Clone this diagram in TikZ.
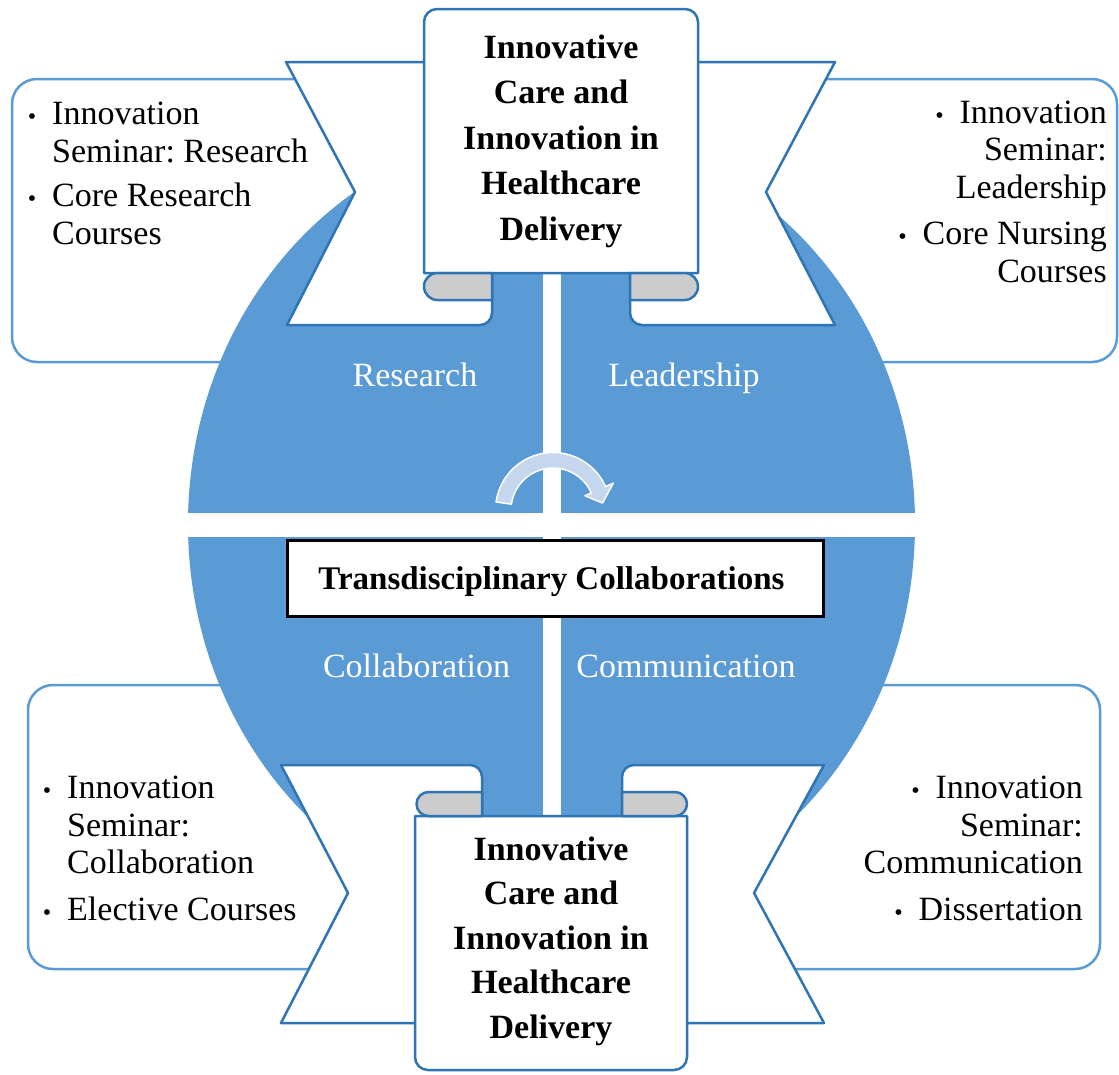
\documentclass[tikz,border=0pt]{standalone}
\usepackage{fontspec}
\setmainfont{Liberation Serif}
\frenchspacing
\definecolor{cblue}{HTML}{5B9BD5}
\definecolor{dblue}{HTML}{2E75B6}
\definecolor{curlgray}{HTML}{CCCCCC}
\definecolor{arrowfill}{HTML}{C5D7EF}
\newcommand\mybul{\makebox[40pt]{\fontsize{24}{24}\selectfont\textbullet}}
\newcommand\myind{\hspace*{40pt}}
\begin{document}
\begin{tikzpicture}[x=1pt,y=-1pt,
  callout/.style={draw=cblue, line width=2.5pt, fill=white, rounded corners=25pt},
  ribline/.style={draw=dblue, line width=2.5pt, line join=round, fill=white},
  curlpart/.style={ribline, fill=curlgray},
  title/.style={font=\fontsize{34}{45.5}\selectfont\bfseries, align=center, anchor=base, inner sep=0pt},
  ctext/.style={font=\fontsize{34}{38}\selectfont, inner sep=0pt},
  lab/.style={font=\fontsize{34}{40}\selectfont, text=white, anchor=base, inner sep=0pt}]
\useasboundingbox (0,0) rectangle (1119,1074);
\fill[white] (0,0) rectangle (1119,1074);

% callouts
\draw[callout] (12,79) rectangle (420,362);
\draw[callout] (700,79) rectangle (1117,362);
\draw[callout] (28,685) rectangle (420,969);
\draw[callout] (690,685) rectangle (1100,969);

% blue disc and white cross
\fill[cblue] (551.5,524) ellipse [x radius=363.5, y radius=395];
\fill[white] (543,100) rectangle (561,950);
\fill[white] (150,513) rectangle (950,537);

% top ribbon
\draw[ribline] (286,62) -- (492,62) -- (492,313) arc[start angle=0, end angle=90, radius=12] -- (287,325) -- (355,192) -- cycle;
\draw[ribline] (835,62) -- (630,62) -- (630,313) arc[start angle=180, end angle=90, radius=12] -- (835,325) -- (766,192) -- cycle;
\draw[ribline] (424,273) -- (424,22) arc[start angle=180, end angle=270, radius=13] -- (685,9) arc[start angle=270, end angle=360, radius=13] -- (698,273) -- cycle;
\draw[curlpart] (492,273) -- (437.5,273) arc[start angle=270, end angle=90, radius=13.5] -- (492,300) -- cycle;
\draw[curlpart] (630,273) -- (684.5,273) arc[start angle=270, end angle=450, radius=13.5] -- (630,300) -- cycle;

% bottom ribbon
\draw[ribline] (281,1023) -- (482,1023) -- (482,777) arc[start angle=0, end angle=-90, radius=12] -- (281,765) -- (348,893) -- cycle;
\draw[ribline] (824,1023) -- (622,1023) -- (622,777) arc[start angle=180, end angle=270, radius=12] -- (824,765) -- (754,893) -- cycle;
\draw[ribline] (415,816) -- (415,1057) arc[start angle=180, end angle=90, radius=13] -- (674,1070) arc[start angle=90, end angle=0, radius=13] -- (687,816) -- cycle;
\draw[curlpart] (482,816) -- (428.5,816) arc[start angle=90, end angle=270, radius=12] -- (482,792) -- cycle;
\draw[curlpart] (622,816) -- (675,816) arc[start angle=90, end angle=-90, radius=12] -- (622,792) -- cycle;

% curved arrow
\begin{scope}[shift={(553,510)}]
\draw[fill=arrowfill, draw=white, line width=1.5pt, line join=round]
  (188:57.5) arc[start angle=188, end angle=336, radius=57.5]
  -- (336:66) -- (352:50) -- (336:35) -- (336:42)
  arc[start angle=336, end angle=188, radius=42] -- cycle;
\end{scope}

% center box
\node[draw=black, line width=3pt, fill=white, minimum width=536pt, minimum height=76pt, inner sep=0pt] (tbox) at (555,578) {};
\node[font=\fontsize{33}{40}\selectfont\bfseries, anchor=base, inner sep=0pt] (ttext) at (551.5,589) {Transdisciplinary Collaborations};

% titles (base anchor = last line)
\node[title] (ttop) at (561,240) {Innovative\\Care and\\Innovation in\\Healthcare\\Delivery};
\node[title, font=\fontsize{34}{44.5}\selectfont\bfseries] (tbot) at (551,1038) {Innovative\\Care and\\Innovation in\\Healthcare\\Delivery};

% labels
\node[lab] (lres) at (415,386) {Research};
\node[lab] (llead) at (684,386) {Leadership};
\node[lab] (lcoll) at (416.5,677) {Collaboration};
\node[lab] (lcomm) at (686,677) {Communication};

% callout texts (base anchor = last line)
\node[ctext, align=left, anchor=base west] (ctl) at (12,244) {\mybul Innovation\\\myind Seminar: Research\\[6pt]\mybul Core Research\\\myind Courses};
\node[ctext, align=right, anchor=base east, font=\fontsize{34}{37.5}\selectfont] (ctr) at (1107,282) {\mybul Innovation\\Seminar:\\Leadership\\[9pt]\mybul Core Nursing\\Courses};
\node[ctext, align=left, anchor=base west, font=\fontsize{34}{37.5}\selectfont] (cbl) at (27,920) {\mybul Innovation\\\myind Seminar:\\\myind Collaboration\\[9pt]\mybul Elective Courses};
\node[ctext, align=right, anchor=base east, font=\fontsize{34}{37.5}\selectfont] (cbr) at (1083,920) {\mybul Innovation\\Seminar:\\Communication\\[9pt]\mybul Dissertation};
\end{tikzpicture}
\end{document}
